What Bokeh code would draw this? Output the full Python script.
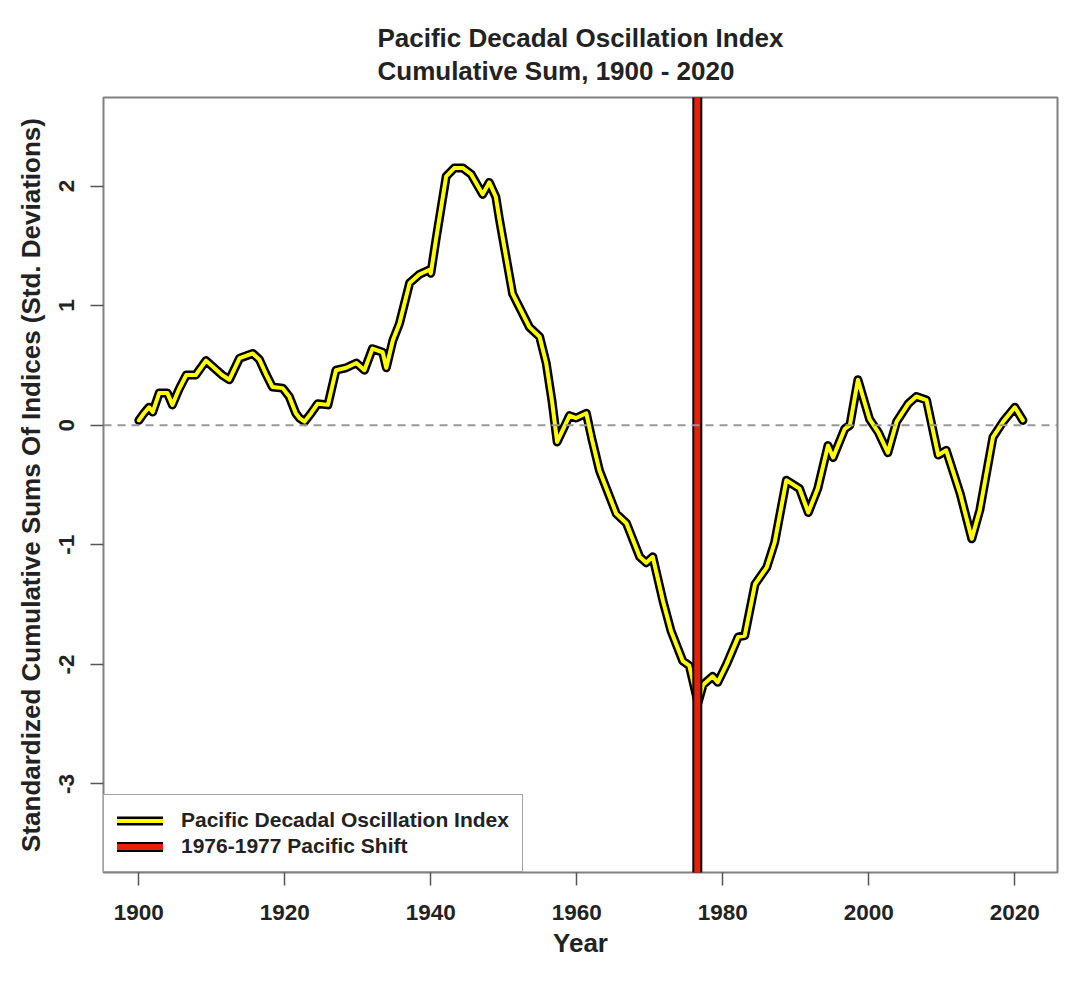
from bokeh.plotting import figure
from bokeh.models import Range1d, Span, FixedTicker, Legend, LegendItem
from bokeh.embed import file_html
from bokeh.resources import INLINE

# ---- data ----
years = [1900.0, 1900.7, 1901.4, 1901.9, 1902.8, 1903.9, 1904.6, 1905.5, 1906.5, 1907.8,
         1909.2, 1910.3, 1911.4, 1912.4, 1913.8, 1915.6, 1916.5, 1917.4, 1918.3, 1919.7,
         1920.6, 1921.5, 1922.0, 1922.7, 1923.6, 1924.5, 1925.9, 1927.0, 1928.4, 1929.8,
         1930.9, 1932.0, 1933.4, 1933.9, 1934.8, 1935.7, 1937.1, 1938.4, 1939.8, 1940.0,
         1940.7, 1942.1, 1943.2, 1944.4, 1945.5, 1947.1, 1948.0, 1948.9, 1949.4, 1951.2,
         1953.5, 1954.9, 1955.8, 1956.6, 1957.3, 1959.0, 1959.9, 1961.3, 1962.0, 1963.1,
         1965.4, 1966.8, 1968.6, 1969.5, 1970.4, 1971.8, 1972.9, 1974.5, 1975.4, 1976.6,
         1977.3, 1978.6, 1979.3, 1980.5, 1982.1, 1983.0, 1984.4, 1986.0, 1987.1, 1988.7,
         1990.5, 1991.7, 1993.0, 1994.4, 1995.1, 1996.7, 1997.4, 1998.5, 2000.1, 2001.3,
         2002.6, 2003.8, 2005.4, 2006.5, 2007.9, 2009.5, 2010.6, 2012.5, 2014.1, 2015.2,
         2017.0, 2018.4, 2020.0, 2021.1]
pdo_cusum = [0.04, 0.10, 0.15, 0.11, 0.27, 0.27, 0.17, 0.30, 0.42, 0.42,
             0.54, 0.48, 0.42, 0.38, 0.56, 0.60, 0.55, 0.43, 0.32, 0.31,
             0.24, 0.10, 0.06, 0.03, 0.10, 0.18, 0.17, 0.46, 0.48, 0.52,
             0.46, 0.64, 0.61, 0.48, 0.71, 0.85, 1.19, 1.26, 1.30, 1.27,
             1.55, 2.08, 2.15, 2.15, 2.10, 1.93, 2.03, 1.91, 1.72, 1.10,
             0.82, 0.74, 0.52, 0.20, -0.14, 0.08, 0.06, 0.10, -0.10, -0.38,
             -0.74, -0.82, -1.10, -1.15, -1.10, -1.47, -1.72, -1.97, -2.01, -2.32,
             -2.17, -2.10, -2.15, -2.00, -1.77, -1.76, -1.33, -1.19, -0.98, -0.46,
             -0.53, -0.73, -0.53, -0.17, -0.27, -0.03, 0.00, 0.38, 0.05, -0.06,
             -0.23, 0.03, 0.18, 0.24, 0.21, -0.25, -0.21, -0.57, -0.95, -0.71,
             -0.10, 0.03, 0.15, 0.04]
shift_year = [1976.5]
x_ticks = [1900, 1920, 1940, 1960, 1980, 2000, 2020]
y_ticks = [-3, -2, -1, 0, 1, 2]
y_tick_labels = ["-3", "-2", "-1", "0", "1", "2"]
x_limits = (1895.16, 2025.84)
y_limits = (-3.74, 2.74)

title_lines = ["Pacific Decadal Oscillation Index", "Cumulative Sum, 1900 - 2020"]
series_label = "Pacific Decadal Oscillation Index"
shift_label = "1976-1977 Pacific Shift"
x_label = "Year"
y_label = "Standardized Cumulative Sums Of Indices (Std. Deviations)"

FONT = "Liberation Sans"
TEXT = "#222222"

p = figure(width=1060, height=993, output_backend="svg", toolbar_location=None,
           x_range=Range1d(*x_limits), y_range=Range1d(*y_limits),
           min_border_left=103, min_border_right=3, min_border_top=97, min_border_bottom=121,
           title="\n".join(title_lines))
p.title.align = "center"
p.title.text_font = FONT
p.title.text_font_size = "26px"
p.title.text_font_style = "bold"
p.title.text_color = TEXT
p.title.text_line_height = 1.1
p.title.standoff = 23
p.grid.visible = False
p.outline_line_color = "#808080"
p.outline_line_width = 2
p.background_fill_color = "white"
p.border_fill_color = "white"

for ax in (p.xaxis[0], p.yaxis[0]):
    ax.axis_line_color = None
    ax.major_tick_line_color = "#555555"
    ax.major_tick_line_width = 1.5
    ax.major_tick_out = 13
    ax.major_tick_in = 0
    ax.minor_tick_line_color = None
    ax.major_label_text_font = FONT
    ax.major_label_text_font_style = "bold"
    ax.major_label_text_font_size = "22.5px"
    ax.major_label_text_color = TEXT
    ax.axis_label_text_font = FONT
    ax.axis_label_text_font_style = "bold"
    ax.axis_label_text_font_size = "26px"
    ax.axis_label_text_color = TEXT

p.xaxis.ticker = FixedTicker(ticks=x_ticks)
p.yaxis.ticker = FixedTicker(ticks=y_ticks)
p.yaxis.major_label_overrides = dict(zip(y_ticks, y_tick_labels))
p.xaxis.axis_label = x_label
p.yaxis.axis_label = y_label
p.yaxis.major_label_orientation = "vertical"
p.xaxis.major_label_standoff = 19
p.yaxis.major_label_standoff = 16
p.xaxis.axis_label_standoff = 5
p.yaxis.axis_label_standoff = 11

zero = Span(location=0, dimension="width", line_color="#999999", line_dash="8 6", line_width=2)
p.add_layout(zero)

pdo_edge = p.line(years, pdo_cusum, line_color="black", line_width=9,
                  line_join="round", line_cap="round")
pdo_fill = p.line(years, pdo_cusum, line_color="#FFFF00", line_width=4,
                  line_join="round", line_cap="round")

shift_edge = p.segment(x0=shift_year, x1=shift_year, y0=[y_limits[0]] * len(shift_year),
                       y1=[y_limits[1]] * len(shift_year), line_color="black",
                       line_width=10, line_cap="round")
shift_fill = p.segment(x0=shift_year, x1=shift_year, y0=[y_limits[0]] * len(shift_year),
                       y1=[y_limits[1]] * len(shift_year), line_color="#E8200A",
                       line_width=6, line_cap="round")

legend = Legend(items=[LegendItem(label=series_label, renderers=[pdo_edge, pdo_fill]),
                       LegendItem(label=shift_label, renderers=[shift_edge, shift_fill])],
                location="bottom_left", margin=0, padding=13, spacing=2,
                glyph_width=46, glyph_height=21, label_height=21, label_standoff=18,
                border_line_color="#444444", border_line_width=1.5,
                background_fill_color="white", background_fill_alpha=1.0,
                label_text_font=FONT, label_text_font_style="bold",
                label_text_font_size="21px", label_text_color=TEXT)
p.add_layout(legend)

open("out.html", "w").write(file_html(p, INLINE))
